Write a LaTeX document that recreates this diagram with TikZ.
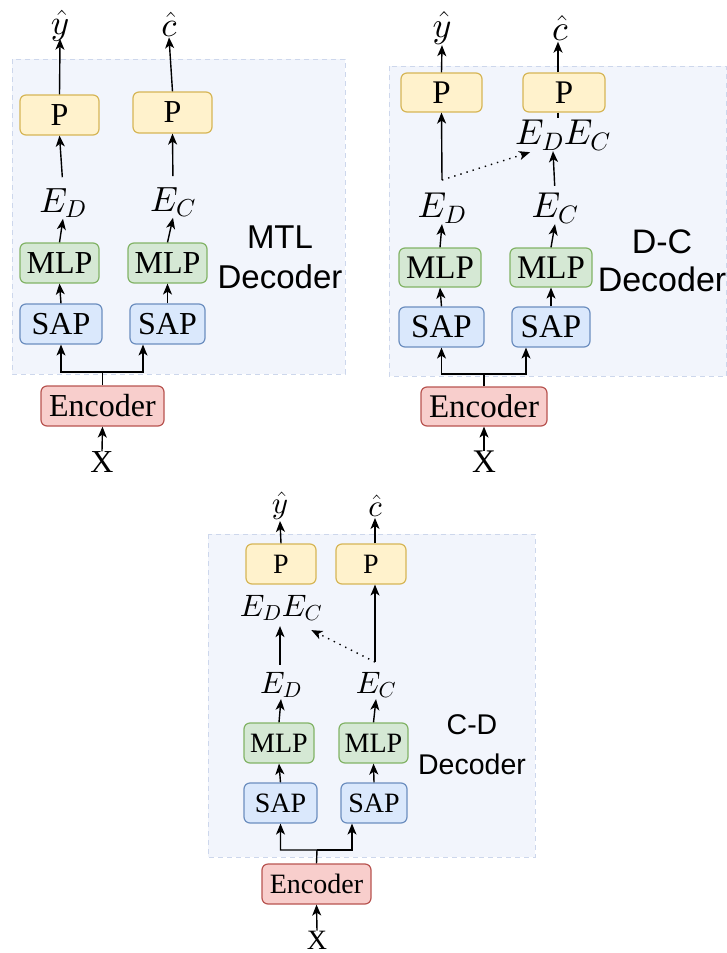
\documentclass[tikz,border=0pt]{standalone}
\usepackage{fix-cm}
\usepackage{fontspec}
\setmainfont{Liberation Serif}
\setsansfont{Liberation Sans}
% math italic drawn from the 10pt design at every size
\DeclareFontShape{OML}{cmm}{m}{it}{<->cmmi10}{\skewchar\font=127}
\usetikzlibrary{arrows.meta}

\definecolor{panelfill}{HTML}{F2F5FC}
\definecolor{paneldraw}{HTML}{CDD7EC}
\definecolor{pfill}{HTML}{FFF2CC}\definecolor{pdraw}{HTML}{D6B656}
\definecolor{mfill}{HTML}{D5E8D4}\definecolor{mdraw}{HTML}{82B366}
\definecolor{sfill}{HTML}{DAE8FC}\definecolor{sdraw}{HTML}{6C8EBF}
\definecolor{efill}{HTML}{F8CECC}\definecolor{edraw}{HTML}{B85450}

% font sizes for the three panels
\newcommand\serA{\fontsize{32}{38}\selectfont}
\newcommand\serB{\fontsize{33}{40}\selectfont}
\newcommand\serC{\fontsize{28}{34}\selectfont}
\newcommand\mthA{\fontsize{35}{40}\selectfont}
\newcommand\mthB{\fontsize{36}{42}\selectfont}
\newcommand\mthC{\fontsize{31}{36}\selectfont}
\newcommand\sanA{\fontsize{33}{40}\selectfont\sffamily}
\newcommand\sanB{\fontsize{34}{38}\selectfont\sffamily}
\newcommand\sanC{\fontsize{28.5}{40}\selectfont\sffamily}

\tikzset{
  panel/.style={fill=panelfill, draw=paneldraw, line width=1pt, dash pattern=on 5pt off 4pt},
  blk/.style={rounded corners=6pt, line width=1.2pt, inner sep=0pt, text=black},
  pbox/.style={blk, fill=pfill, draw=pdraw},
  mbox/.style={blk, fill=mfill, draw=mdraw},
  sbox/.style={blk, fill=sfill, draw=sdraw},
  ebox/.style={blk, fill=efill, draw=edraw},
  lbl/.style={inner sep=1pt},
  arr/.style={line width=1.4pt, -{Stealth[length=11pt,width=9pt,inset=3pt]}},
  ln/.style={line width=1.4pt},
  dotarr/.style={line width=1.4pt, dash pattern=on 1.4pt off 5pt, -{Stealth[length=11pt,width=9pt,inset=3pt]}},
}

\begin{document}
\begin{tikzpicture}[x=1pt,y=-1pt]
\useasboundingbox (0,0) rectangle (727,953);

%% ---------------- MTL decoder ----------------
\filldraw[panel] (12,59) rectangle (345,374);
\node[pbox, minimum width=79pt, minimum height=40pt, font=\serA] (pA1) at (59.5,115) {P};
\node[pbox, minimum width=79pt, minimum height=41pt, font=\serA] (pA2) at (172.5,112.5) {P};
\node[mbox, minimum width=79pt, minimum height=40pt, font=\serA] (mA1) at (59.5,263) {MLP};
\node[mbox, minimum width=79pt, minimum height=40pt, font=\serA] (mA2) at (167.5,263) {MLP};
\node[sbox, minimum width=82pt, minimum height=40pt, font=\serA] (sA1) at (61,324) {SAP};
\node[sbox, minimum width=75pt, minimum height=40pt, font=\serA] (sA2) at (167.5,324) {SAP};
\node[ebox, minimum width=123pt, minimum height=40pt, font=\serA] (encA) at (102.5,406) {Encoder};
\node[lbl, font=\mthA] (yA) at (60,26) {$\hat{y}$};
\node[lbl, font=\mthA] (cA) at (169,24) {$\hat{c}$};
\node[lbl, font=\mthA] (edA) at (63,203) {$E_D$};
\node[lbl, font=\mthA] (ecA) at (173,202) {$E_C$};
\node[font=\serA, inner sep=0pt] (xA) at (102,462) {X};
\node[font=\sanA, align=center] (tA) at (280,257) {MTL\\Decoder};

\coordinate (fA) at (102.5,372);
\draw[arr] (xA.north) -- (encA.south);
\draw[arr] (encA.north) -- (fA) -| (sA1.south);
\draw[arr] (fA) -| ([xshift=-24.5pt]sA2.south);
\draw[arr] (sA1.north) -- (mA1.south);
\draw[arr] (sA2.north) -- (mA2.south);
\draw[arr] (mA1.north) -- (edA.south);
\draw[arr] (mA2.north) -- (ecA.south);
\draw[arr, shorten <=10pt] (edA.north) -- (pA1.south);
\draw[arr, shorten <=10pt] (ecA.north) -- (pA2.south);
\draw[arr, shorten >=-4pt] (pA1.north) -- (yA.south);
\draw[arr] (pA2.north) -- (cA.south);

%% ---------------- D-C decoder ----------------
\filldraw[panel] (389,66) rectangle (726.5,376);
\node[pbox, minimum width=81pt, minimum height=39pt, font=\serB] (pB1) at (441.5,92.5) {P};
\node[pbox, minimum width=82pt, minimum height=39pt, font=\serB] (pB2) at (564,92.5) {P};
\node[mbox, minimum width=82pt, minimum height=39pt, font=\serB] (mB1) at (440,267.5) {MLP};
\node[mbox, minimum width=82pt, minimum height=39pt, font=\serB] (mB2) at (551,267.5) {MLP};
\node[sbox, minimum width=85pt, minimum height=40pt, font=\serB] (sB1) at (441.5,327) {SAP};
\node[sbox, minimum width=78pt, minimum height=40pt, font=\serB] (sB2) at (551,327) {SAP};
\node[ebox, minimum width=126pt, minimum height=39pt, font=\serB] (encB) at (484,406.5) {Encoder};
\node[lbl, font=\mthB] (yB) at (442,28) {$\hat{y}$};
\node[lbl, font=\mthB] (cB) at (560,28) {$\hat{c}$};
\node[lbl, font=\mthB] (edcB) at (563,135) {$E_DE_C$};
\node[lbl, font=\mthB] (edB) at (442,208) {$E_D$};
\node[lbl, font=\mthB] (ecB) at (555,208) {$E_C$};
\node[font=\serB, inner sep=0pt] (xB) at (484,462) {X};
\node[font=\sanB, align=center] (tB) at (662,261) {D-C\\Decoder};

\coordinate (fB) at (484,374);
\coordinate (dB) at (442,180);
\draw[arr] (xB.north) -- (encB.south);
\draw[arr] (encB.north) -- (fB) -| (sB1.south);
\draw[arr] (fB) -| ([xshift=-25pt]sB2.south);
\draw[arr] (sB1.north) -- (mB1.south);
\draw[arr] (sB2.north) -- (mB2.south);
\draw[arr] (mB1.north) -- (edB.south);
\draw[arr] (mB2.north) -- (ecB.south);
\draw[arr] (dB) -- (pB1.south);
\draw[arr, shorten <=6pt] (ecB.north) -- ([xshift=-10pt]edcB.south);
\draw[dotarr] (dB) -- ([xshift=16pt,yshift=-1pt]edcB.south west);
\draw[ln] ([xshift=-6pt]pB2.south) -- ++(0,5);
\draw[arr] (pB1.north) -- (yB.south);
\draw[arr] ([xshift=-6pt]pB2.north) -- ([xshift=-2pt]cB.south);

%% ---------------- C-D decoder ----------------
\filldraw[panel] (208,534) rectangle (535,857);
\node[pbox, minimum width=70pt, minimum height=40pt, font=\serC] (pC1) at (281,564) {P};
\node[pbox, minimum width=70pt, minimum height=40pt, font=\serC] (pC2) at (371,564) {P};
\node[mbox, minimum width=70pt, minimum height=40pt, font=\serC] (mC1) at (279,743) {MLP};
\node[mbox, minimum width=69pt, minimum height=40pt, font=\serC] (mC2) at (373.5,743) {MLP};
\node[sbox, minimum width=73pt, minimum height=40pt, font=\serC] (sC1) at (280.5,803) {SAP};
\node[sbox, minimum width=66pt, minimum height=40pt, font=\serC] (sC2) at (374,803) {SAP};
\node[ebox, minimum width=109pt, minimum height=40pt, font=\serC] (encC) at (316.5,884) {Encoder};
\node[lbl, font=\mthC] (yC) at (280,506) {$\hat{y}$};
\node[lbl, font=\mthC] (cC) at (375,506) {$\hat{c}$};
\node[lbl, font=\mthC] (edcC) at (281,608) {$E_DE_C$};
\node[lbl, font=\mthC] (edC) at (281,685) {$E_D$};
\node[lbl, font=\mthC] (ecC) at (376,685) {$E_C$};
\node[font=\serC, inner sep=0pt] (xC) at (317,940) {X};
\node[font=\sanC, align=center] (tC) at (472,745) {C-D\\Decoder};

\coordinate (fC) at (317,850);
\coordinate (dC) at (375,662);
\draw[arr] (xC.north) -- (encC.south);
\draw[arr] (encC.north) -- (fC) -| (sC1.south);
\draw[arr] (fC) -| ([xshift=-22pt]sC2.south);
\draw[arr] (sC1.north) -- (mC1.south);
\draw[arr] (sC2.north) -- (mC2.south);
\draw[arr] (mC1.north) -- (edC.south);
\draw[arr] (mC2.north) -- (ecC.south);
\draw[arr, shorten <=6pt, shorten >=4pt] ([xshift=-1pt]edC.north) -- ([xshift=-1pt]edcC.south);
\draw[arr] (dC) -- ([xshift=4pt]pC2.south);
\draw[dotarr] (dC) -- ([xshift=-12pt,yshift=-8pt]edcC.south east);
\draw[arr] (pC1.north) -- (yC.south);
\draw[arr] ([xshift=4pt]pC2.north) -- (cC.south);
\end{tikzpicture}
\end{document}
